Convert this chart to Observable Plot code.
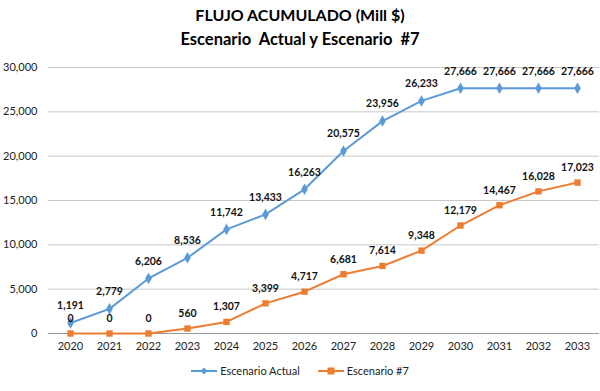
<!DOCTYPE html>
<html>
<head>
<meta charset="utf-8">
<script src="https://cdn.jsdelivr.net/npm/d3@7"></script>
<script src="https://cdn.jsdelivr.net/npm/@observablehq/plot@0.6"></script>
<style>
  body { margin: 0; background: #fff; font-family: Lato, "Open Sans", sans-serif; }
  #title { height: 50px; padding-top: 3px; box-sizing: border-box; text-align: center; font-weight: bold; font-size: 16px; line-height: 24px; color: #000; }
  #legend { display: flex; justify-content: center; align-items: center; gap: 18px; font-size: 11px; color: #222; margin-top: 4px; }
  #legend .item { display: flex; align-items: center; gap: 3px; }
</style>
</head>
<body>
<div id="title">FLUJO ACUMULADO (Mill $)<br><span style="font-size:16.5px">Escenario&nbsp; Actual y Escenario&nbsp; #7</span></div>
<div id="chart"></div>
<div id="legend">
  <span class="item"><svg width="26" height="10"><line x1="0" y1="5" x2="26" y2="5" stroke="#5B9BD5" stroke-width="2"/><path d="M13 1.5 L16.5 5 L13 8.5 L9.5 5 Z" fill="#5B9BD5"/></svg>Escenario Actual</span>
  <span class="item"><svg width="26" height="10"><line x1="0" y1="5" x2="26" y2="5" stroke="#ED7D31" stroke-width="2"/><rect x="9.5" y="1.5" width="7" height="7" fill="#ED7D31"/></svg>Escenario #7</span>
</div>
<script>
const years = ["2020","2021","2022","2023","2024","2025","2026","2027","2028","2029","2030","2031","2032","2033"];
const actual = [1191, 2779, 6206, 8536, 11742, 13433, 16263, 20575, 23956, 26233, 27666, 27666, 27666, 27666];
const esc7 = [0, 0, 0, 560, 1307, 3399, 4717, 6681, 7614, 9348, 12179, 14467, 16028, 17023];
const yTicks = [0, 5000, 10000, 15000, 20000, 25000, 30000];

const dA = years.map((y, i) => ({year: y, value: actual[i]}));
const dE = years.map((y, i) => ({year: y, value: esc7[i]}));
const fmt = d3.format(",");

const chart = Plot.plot({
  width: 600,
  height: 310,
  marginLeft: 48,
  marginRight: 1,
  marginTop: 17,
  marginBottom: 27,
  style: {fontFamily: "Lato, 'Open Sans', sans-serif", fontSize: "11px", color: "#222"},
  x: {type: "point", domain: years, padding: 0.5, label: null},
  y: {domain: [0, 30000], ticks: yTicks, label: null},
  marks: [
    Plot.gridY(yTicks.filter(t => t > 0), {stroke: "#c8c8c8", strokeOpacity: 1, strokeWidth: 1}),
    Plot.ruleY([0], {stroke: "#999"}),
    Plot.axisY({ticks: yTicks, tickSize: 0, tickPadding: 11, tickFormat: fmt, label: null, fontSize: 11}),
    Plot.axisX({tickSize: 0, tickPadding: 9, label: null, fontSize: 11}),
    Plot.line(dA, {x: "year", y: "value", stroke: "#5B9BD5", strokeWidth: 2}),
    Plot.dot(dA, {x: "year", y: "value", symbol: "diamond", r: 3.5, fill: "#5B9BD5", stroke: "none"}),
    Plot.line(dE, {x: "year", y: "value", stroke: "#ED7D31", strokeWidth: 2}),
    Plot.dot(dE, {x: "year", y: "value", symbol: "square", r: 3.6, fill: "#ED7D31", stroke: "none"}),
    Plot.text(dA, {x: "year", y: "value", text: d => fmt(d.value), dy: -17, fontWeight: "bold", fill: "#111", fontSize: 10.5}),
    Plot.text(dE, {x: "year", y: "value", text: d => fmt(d.value), dy: -15, fontWeight: "bold", fill: "#111", fontSize: 10.5})
  ]
});
document.getElementById("chart").appendChild(chart);
</script>
</body>
</html>
